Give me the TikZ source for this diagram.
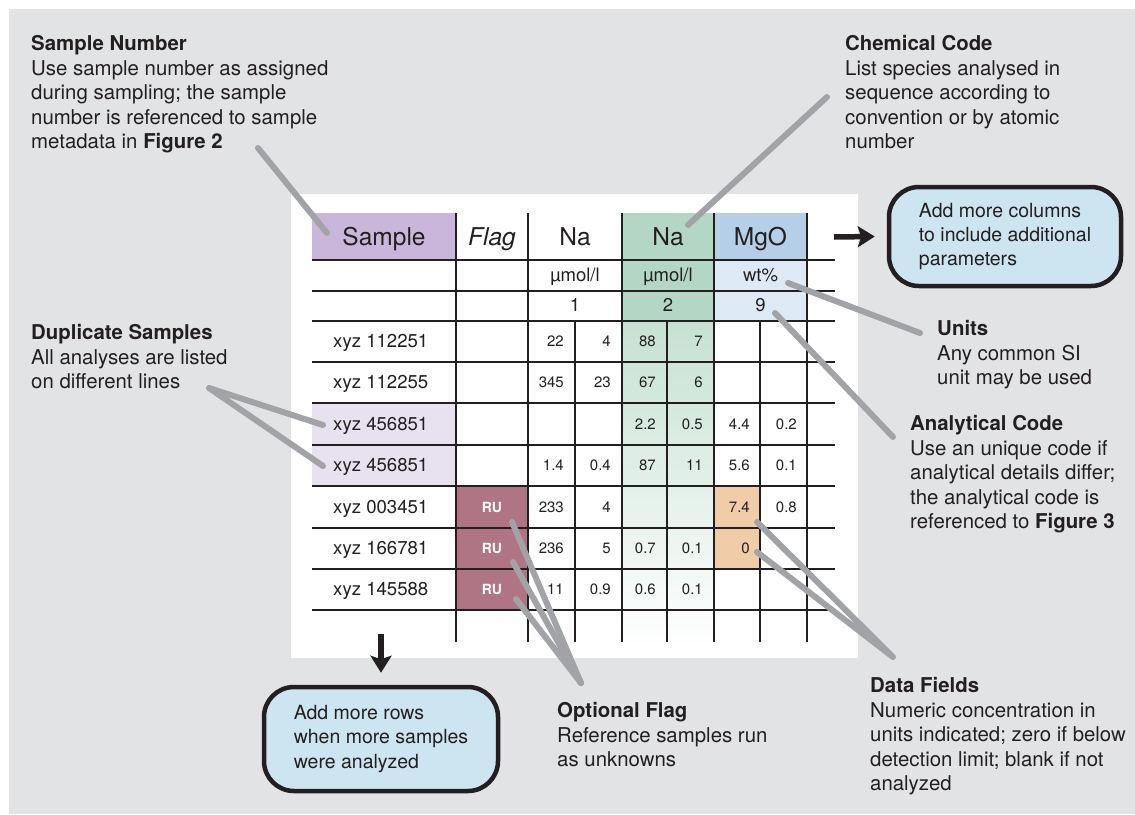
\documentclass[tikz,border=0pt]{standalone}
\usepackage{fontspec}
\setmainfont{TeX Gyre Heros}
\usetikzlibrary{arrows.meta}
\definecolor{bg}{HTML}{E2E3E5}
\definecolor{ink}{HTML}{231F20}
\definecolor{callgray}{HTML}{A2A3A6}
\definecolor{smppurple}{HTML}{C9B6DA}
\definecolor{duplav}{HTML}{E8E1EF}
\definecolor{nagreen}{HTML}{B3D6C5}
\definecolor{nagreenlt}{HTML}{C6E1D3}
\definecolor{mgoblue}{HTML}{B5CFE8}
\definecolor{mgobluelt}{HTML}{DDE9F5}
\definecolor{flagred}{HTML}{B07585}
\definecolor{dforange}{HTML}{F0CDA8}
\definecolor{boxblue}{HTML}{CDE4F1}
\tikzset{
  ann/.style    = {anchor=north west, align=left, inner sep=0pt, text=ink,
                   font=\fontsize{20.4}{24.5}\selectfont},
  addbox/.style = {draw=ink, line width=4.5pt, fill=boxblue, rounded corners=30pt,
                   align=left, text=ink, font=\fontsize{19.5}{24.2}\selectfont},
  tline/.style  = {draw=ink, line width=1.8pt},
  hdr/.style    = {anchor=base, inner sep=0pt, text=ink, font=\fontsize{24.5}{28}\selectfont},
  unitlbl/.style= {anchor=base, inner sep=0pt, text=ink, font=\fontsize{18.5}{22}\selectfont},
  smp/.style    = {anchor=base west, inner sep=0pt, text=ink, font=\fontsize{18.6}{22}\selectfont},
  num/.style    = {anchor=base east, inner sep=0pt, text=ink, font=\fontsize{15}{18}\selectfont},
  ru/.style     = {anchor=base, inner sep=0pt, text=white, font=\fontsize{14}{16}\selectfont\bfseries},
  callout/.style= {draw=callgray, line width=6pt, line cap=round, line join=round},
  more/.style   = {-{Stealth[length=17pt, width=21pt, inset=3.5pt]}, draw=ink, line width=5.5pt},
}

\begin{document}
\begin{tikzpicture}[x=1pt, y=-1pt]
\useasboundingbox (0,0) rectangle (1135,814);
\fill[bg] (9,9) rectangle (1135,814);
\fill[white] (291,194) rectangle (858,658);

% cell fills
\fill[smppurple] (312,213) rectangle (456,260);
\fill[duplav]    (312,403) rectangle (456,486);
\fill[flagred]   (456,486) rectangle (528,610);
\fill[nagreen]   (622,213) rectangle (714,321);
\shade[top color=nagreenlt, bottom color=white] (622,321) rectangle (714,648);
\fill[mgoblue]   (714,213) rectangle (807,260);
\fill[mgobluelt] (714,260) rectangle (807,321);
\fill[dforange]  (714,486) rectangle (760,569);

% grid
\foreach \y in {260,291,321,362,403,445,486,528,569,610}
  \draw[tline] (312,\y) -- (835,\y);
\foreach \x in {456,528,622,714,807}
  \draw[tline] (\x,213) -- (\x,642);
\foreach \x in {575,667,760}
  \draw[tline] (\x,321) -- (\x,642);

% header rows
\node[hdr] (hsmp)  at (384,245)   {Sample};
\node[hdr] (hflag) at (492,245)   {\itshape Flag};
\node[hdr] (hna1)  at (575,245)   {Na};
\node[hdr] (hna2)  at (668,245)   {Na};
\node[hdr] (hmgo)  at (760.5,245) {MgO};
\node[unitlbl] (una1)  at (575,281.5)   {µmol/l};
\node[unitlbl] (una2)  at (668,281.5)   {µmol/l};
\node[unitlbl] (umgo)  at (760.5,281.5) {wt\%};
\node[unitlbl] (cna1)  at (575,311)     {1};
\node[unitlbl] (cna2)  at (668,311)     {2};
\node[unitlbl] (cmgo)  at (760.5,311)   {9};

% data rows
\foreach \y/\id/\a/\b/\c/\d/\e/\f [count=\r] in {
    341.5/112251/22/4/88/7/{}/{},
    382.5/112255/345/23/67/6/{}/{},
    424/456851/{}/{}/2.2/0.5/4.4/0.2,
    465.5/456851/1.4/0.4/87/11/5.6/0.1,
    507/003451/233/4/{}/{}/7.4/0.8,
    548.5/166781/236/5/0.7/0.1/0/{},
    589.5/145588/11/0.9/0.6/0.1/{}/{}} {
  \node[smp] (id\r)   at (333,\y+6.2) {xyz \id};
  \node[num] (na1a\r) at (564,\y+5.3) {\a};
  \node[num] (na1b\r) at (611,\y+5.3) {\b};
  \node[num] (na2a\r) at (656,\y+5.3) {\c};
  \node[num] (na2b\r) at (703,\y+5.3) {\d};
  \node[num] (mgoa\r) at (750,\y+5.3) {\e};
  \node[num] (mgob\r) at (797,\y+5.3) {\f};
}
\foreach \y [count=\r] in {512,553.5,594.5}
  \node[ru] (ru\r) at (492,\y) {RU};

% notes
\node[ann] (sampnum) at (31,35.4) {\textbf{Sample Number}\\Use sample number as assigned\\during sampling; the sample\\number is referenced to sample\\metadata in \textbf{Figure 2}};
\node[ann] (chemcode) at (845,35.4) {\textbf{Chemical Code}\\List species analysed in\\sequence according to\\convention or by atomic\\number};
\node[ann] (dupl) at (31,324.4) {\textbf{Duplicate Samples}\\All analyses are listed\\on different lines};
\node[ann] (units) at (937,320.4) {\textbf{Units}\\Any common SI\\unit may be used};
\node[ann] (anacode) at (910,415.4) {\textbf{Analytical Code}\\Use an unique code if\\analytical details differ;\\the analytical code is\\referenced to \textbf{Figure 3}};
\node[ann] (optflag) at (557,702.4) {\textbf{Optional Flag}\\Reference samples run\\as unknowns};
\node[ann] (datafld) at (870,677.4) {\textbf{Data Fields}\\Numeric concentration in\\units indicated; zero if below\\detection limit; blank if not\\analyzed};

\node[addbox, minimum width=232pt, minimum height=99pt] (colbox) at (1005,236.5) {Add more columns\\to include additional\\parameters};
\node[addbox, minimum width=234pt, minimum height=104pt] (rowbox) at (381,739) {Add more rows\\when more samples\\were analyzed};

% callout lines
\coordinate (snTail)  at (258,148);
\coordinate (ccTail)  at (827,97);
\coordinate (unTail)  at (920,333);
\coordinate (acTail)  at (893,437);
\coordinate (dsTail)  at (209,388);
\coordinate (ofTail)  at (581,683);
\coordinate (dfTail)  at (893,657);
\draw[callout] (snTail) -- (327,233);
\draw[callout] (ccTail) -- (688,225);
\draw[callout] (unTail) -- (788,283);
\draw[callout] (acTail) -- (775,313);
\draw[callout] (323,425) -- (dsTail) -- (323,466);
\draw[callout] (ofTail) -- (512,522);
\draw[callout] (ofTail) -- (513,562);
\draw[callout] (ofTail) -- (516,599);
\draw[callout] (757,522) -- (dfTail) -- (757,552);

% add-more arrows
\coordinate (colArr) at (834,237);
\coordinate (rowArr) at (381,634);
\draw[more] (colArr) -- ([xshift=-12pt]colbox.west);
\draw[more] (rowArr) -- ([yshift=12pt]rowbox.north);
\end{tikzpicture}
\end{document}
